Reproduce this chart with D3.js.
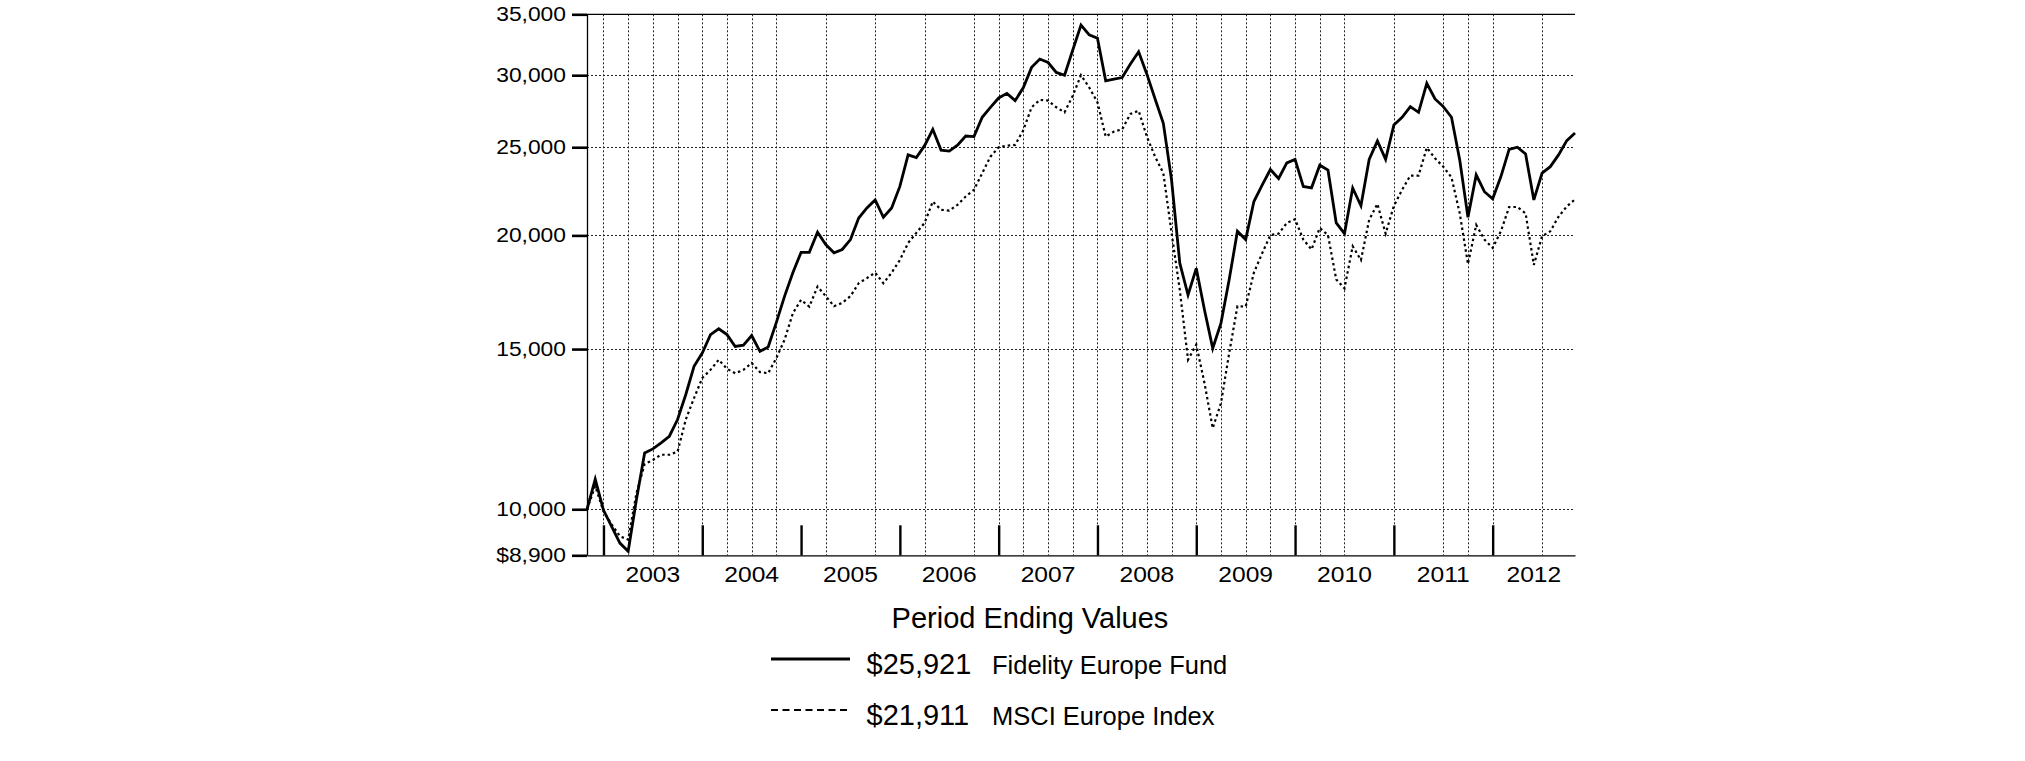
<!DOCTYPE html>
<html lang="en">
<head>
<meta charset="UTF-8">
<title>Fidelity Europe Fund - Period Ending Values</title>
<script src="https://cdn.jsdelivr.net/npm/d3@7/dist/d3.min.js"></script>
<style>
    html, body {
        margin: 0;
        padding: 0;
        background: #fff;
    }
    svg {
        display: block;
        font-family: "Liberation Sans", Arial, sans-serif;
    }
</style>
</head>
<body>
<svg id="chart" width="2025" height="761"></svg>
<script>
    // month-end values of a $10,000 investment, Oct 2002 .. Oct 2012
    var startYear = 2002, startMonth = 10;

    var fundValues = [
        10000, 10790, 9980, 9570, 9180, 8990, 10240, 11530, 11650, 11830, 12030, 12550,
        13370, 14360, 14850, 15560, 15790, 15560, 15100, 15150, 15520, 14910, 15080, 16050,
        17150, 18200, 19160, 19160, 20160, 19540, 19140, 19300, 19790, 20900, 21440, 21880,
        20940, 21440, 22640, 24520, 24350, 25100, 26160, 24820, 24760, 25130, 25720, 25680,
        26970, 27660, 28320, 28650, 28130, 29080, 30600, 31250, 30980, 30210, 30000, 31980,
        34060, 33220, 32940, 29580, 29710, 29820, 30860, 31830, 30080, 28250, 26560, 23010,
        18640, 17200, 18400, 16560, 15030, 16020, 17890, 20210, 19790, 21790, 22720, 23630,
        23100, 24030, 24240, 22640, 22560, 23890, 23590, 20640, 20090, 22550, 21560, 24240,
        25400, 24240, 26450, 26970, 27710, 27310, 29390, 28250, 27710, 26970, 24200, 20940,
        23310, 22340, 21940, 23210, 24870, 25000, 24580, 21880, 23410, 23800, 24520, 25420,
        25921
    ];

    var indexValues = [
        10000, 10600, 9950, 9620, 9340, 9260, 10410, 11210, 11330, 11480, 11480, 11570,
        12550, 13250, 13940, 14230, 14600, 14270, 14110, 14230, 14480, 14150, 14110, 14660,
        15360, 16420, 16990, 16700, 17570, 17150, 16720, 16860, 17150, 17720, 17950, 18200,
        17720, 18200, 18790, 19620, 20130, 20640, 21790, 21340, 21300, 21610, 22070, 22450,
        23410, 24410, 25000, 25100, 25150, 26110, 27660, 28180, 28130, 27660, 27310, 28480,
        30000, 29080, 28010, 25680, 26010, 26160, 27200, 27420, 25680, 24410, 23410, 20130,
        17420, 14600, 15170, 13760, 12280, 13080, 14850, 16720, 16700, 18200, 19110, 20010,
        20090, 20640, 20840, 19790, 19300, 20380, 20010, 17890, 17490, 19460, 18790, 20800,
        21660, 20090, 21550, 22450, 23270, 23270, 24970, 24310, 23800, 23160, 21150, 18600,
        20540, 19790, 19380, 20210, 21490, 21490, 21150, 18560, 19960, 20210, 20970, 21520,
        21911
    ];

    var yTicks = [8900, 10000, 15000, 20000, 25000, 30000, 35000];
    var yTickLabels = ["$8,900", "10,000", "15,000", "20,000", "25,000", "30,000", "35,000"];
    var yGrid = [10000, 15000, 20000, 25000, 30000];

    var yearLabels = ["2003", "2004", "2005", "2006", "2007", "2008", "2009", "2010", "2011", "2012"];
    // quarter-end grid lines that show in the original
    var gridMonths = [
        "2002-12", "2003-03", "2003-06", "2003-09", "2003-12", "2004-03", "2004-06", "2004-09",
        "2005-03", "2005-09", "2006-03", "2006-09", "2006-12", "2007-03", "2007-06", "2007-09",
        "2007-12", "2008-03", "2008-06", "2008-09", "2008-12", "2009-03", "2009-06", "2009-09",
        "2009-12", "2010-03", "2010-06", "2010-12", "2011-06", "2011-09", "2011-12", "2012-06"
    ];

    var legendTitle = "Period Ending Values";
    var seriesNames = ["Fidelity Europe Fund", "MSCI Europe Index"];
    var endLabels = ["$25,921", "$21,911"];

    var plotLeft = 587, plotRight = 1575, plotTop = 14.3, plotBottom = 555.3;
    var lastIdx = fundValues.length - 1;
    // axis lettering in the original is a little wider than Arial
    var yStretch = 1.17, xStretch = 1.12;

    function monthIdx(yr, m) {
        return (yr - startYear) * 12 + (m - startMonth);
    }

    var x = d3.scaleLinear().domain([0, lastIdx]).range([plotLeft, plotRight]);
    var y = d3.scaleLog().domain([8900, 35000]).range([plotBottom, plotTop]);

    var svg = d3.select("#chart");
    svg.append("rect").attr("width", 2025).attr("height", 761).attr("fill", "#fff");

    //grid
    var grid = svg.append("g").attr("stroke", "#222").attr("stroke-width", 1)
        .attr("stroke-dasharray", "2,2");
    grid.selectAll("line.h").data(yGrid).enter().append("line")
        .attr("x1", plotLeft).attr("x2", plotRight)
        .attr("y1", function (d) { return Math.round(y(d)) + 0.5; })
        .attr("y2", function (d) { return Math.round(y(d)) + 0.5; });
    grid.selectAll("line.v").data(gridMonths).enter().append("line")
        .attr("x1", function (d) { var p = d.split("-"); return Math.round(x(monthIdx(+p[0], +p[1]))) + 0.5; })
        .attr("x2", function (d) { var p = d.split("-"); return Math.round(x(monthIdx(+p[0], +p[1]))) + 0.5; })
        .attr("y1", plotTop).attr("y2", plotBottom);

    // top line at 35,000
    svg.append("line").attr("x1", plotLeft).attr("x2", plotRight)
        .attr("y1", y(35000)).attr("y2", y(35000))
        .attr("stroke", "#000").attr("stroke-width", 1.3);

    // y axis
    var yAxis = d3.axisLeft(y).tickValues(yTicks).tickSize(15).tickSizeOuter(0).tickPadding(6)
        .tickFormat(function (d, i) { return yTickLabels[i]; });
    var gy = svg.append("g").attr("transform", "translate(" + plotLeft + ",0)").call(yAxis);
    gy.select(".domain").attr("stroke", "#000").attr("stroke-width", 1.3);
    gy.selectAll(".tick line").attr("stroke", "#000").attr("stroke-width", 2.6);
    gy.selectAll(".tick text").attr("fill", "#000").attr("font-size", 19.5)
        .attr("font-family", "Liberation Sans, Arial, sans-serif")
        .attr("x", -21 / yStretch)
        .attr("transform", "scale(" + yStretch + ",1)");

    // x axis: year ticks at December, labels centred on each year
    var yearEnds = d3.range(startYear, startYear + yearLabels.length).map(function (yr) { return monthIdx(yr, 12); });
    var xAxis = d3.axisBottom(x).tickValues(yearEnds).tickSize(-30).tickSizeOuter(0).tickFormat("");
    var gx = svg.append("g").attr("transform", "translate(0," + plotBottom + ")").call(xAxis);
    gx.select(".domain").attr("stroke", "#000").attr("stroke-width", 1.3);
    gx.selectAll(".tick line").attr("stroke", "#000").attr("stroke-width", 2.4);

    svg.append("g").selectAll("text").data(yearLabels).enter().append("text")
        .attr("transform", function (d) {
            var a = Math.max(0, monthIdx(+d - 1, 12)), b = Math.min(lastIdx, monthIdx(+d, 12));
            return "translate(" + x((a + b) / 2) + ",582) scale(" + xStretch + ",1)";
        })
        .attr("text-anchor", "middle")
        .attr("font-size", 22)
        .text(function (d) { return d; });

    // series
    var line = d3.line().x(function (d, i) { return x(i); }).y(function (d) { return y(d); });
    svg.append("path").datum(indexValues).attr("d", line)
        .attr("fill", "none").attr("stroke", "#000").attr("stroke-width", 2.2)
        .attr("stroke-dasharray", "2.5,3");
    svg.append("path").datum(fundValues).attr("d", line)
        .attr("fill", "none").attr("stroke", "#000").attr("stroke-width", 2.8)
        .attr("stroke-linejoin", "miter");

    // legend
    var lg = svg.append("g");
    lg.append("text").attr("x", 1030).attr("y", 627.5).attr("text-anchor", "middle")
        .attr("font-size", 29).text(legendTitle);
    var rows = [{ y: 659, dash: null, w: 3 }, { y: 710, dash: "7,4.5", w: 2.2 }];
    rows.forEach(function (r, i) {
        lg.append("line").attr("x1", 771).attr("x2", 850).attr("y1", r.y).attr("y2", r.y)
            .attr("stroke", "#000").attr("stroke-width", r.w)
            .attr("stroke-dasharray", r.dash);
        lg.append("text").attr("x", 866.5).attr("y", r.y + 15).attr("font-size", 29).text(endLabels[i]);
        lg.append("text").attr("x", 992).attr("y", r.y + 15).attr("font-size", 25.5).text(seriesNames[i]);
    });
</script>
</body>
</html>
